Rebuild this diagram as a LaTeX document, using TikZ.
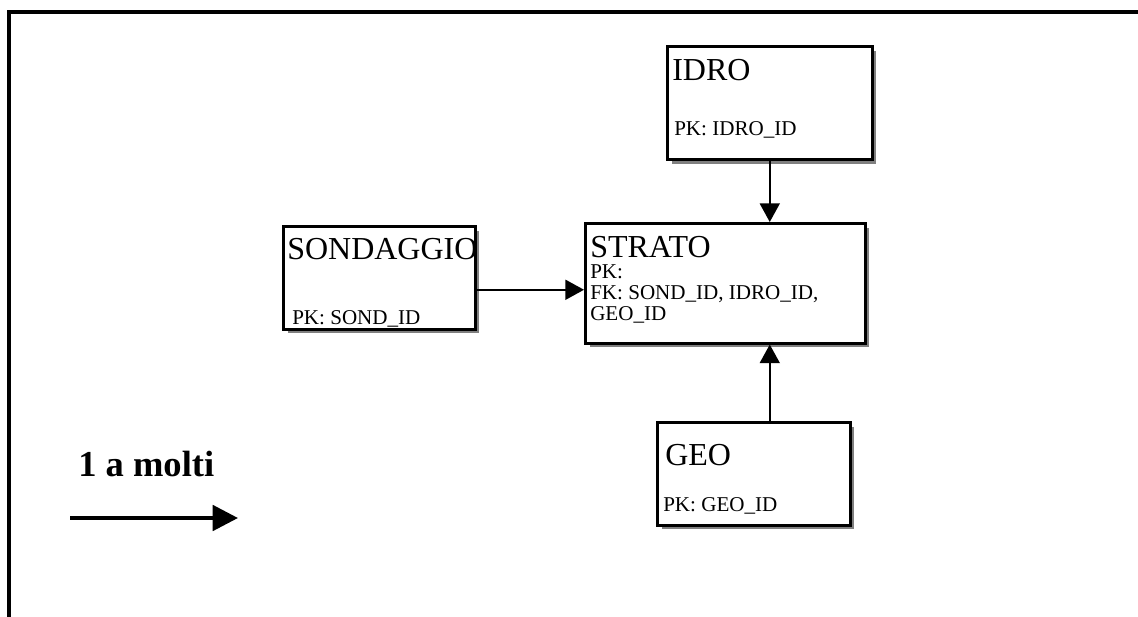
\documentclass[tikz,border=0pt]{standalone}
\usepackage{fontspec}
\setmainfont{Liberation Serif}
\usetikzlibrary{arrows.meta,calc}
\begin{document}
\begin{tikzpicture}[x=0.75pt,y=-0.75pt,
  entity/.style={draw=black,line width=1.9pt,fill=white,inner sep=0pt,anchor=north west},
  shadowbox/.style={fill=black!50,draw=none},
  title/.style={anchor=base west,inner sep=0pt,text depth=0pt,font=\fontsize{24}{28}\selectfont},
  attr/.style={anchor=base west,inner sep=0pt,font=\fontsize{15.8}{19}\selectfont},
  rel/.style={line width=1.4pt,-{Triangle[length=14pt,width=15pt]}},
  legendarrow/.style={line width=3pt,-{Triangle[length=19pt,width=19pt]}}]
\useasboundingbox (0,0) rectangle (1138,617);
% frame
\draw[line width=3pt] (9,617) -- (9,12) -- (1138,12);
% shadows
\fill[shadowbox] (672,51) rectangle (876,164);
\fill[shadowbox] (288,231) rectangle (479,333);
\fill[shadowbox] (590,228) rectangle (869,347);
\fill[shadowbox] (662,427) rectangle (854,529);
% boxes
\node[entity,minimum width=205*0.75pt,minimum height=113*0.75pt] (idro) at (666,45) {};
\node[entity,minimum width=192*0.75pt,minimum height=103*0.75pt] (sond) at (282,225) {};
\node[entity,minimum width=280*0.75pt,minimum height=120*0.75pt] (strato) at (584,222) {};
\node[entity,minimum width=193*0.75pt,minimum height=103*0.75pt] (geo) at (656,421) {};
% texts
\node[title] (idrot) at (672,80) {IDRO};
\node[attr] (idroa) at (674,135) {PK: IDRO\_ID};
\begin{scope}
\clip (282,225) rectangle (473,328);
\node[title] (sondt) at (287,259) {SONDAGGIO};
\end{scope}
\node[attr] (sonda) at (292,324) {PK: SOND\_ID};
\node[title] (stratot) at (590,257) {STRATO};
\node[attr] (stratoa) at (590,278) {PK:};
\node[attr] (stratob) at (590,299) {FK: SOND\_ID, IDRO\_ID,};
\node[attr] (stratoc) at (590,320) {GEO\_ID};
\node[title] (geot) at (665,465) {GEO};
\node[attr] (geoa) at (663,511) {PK: GEO\_ID};
% connectors
\coordinate (s1) at ([yshift=-12*0.75pt]sond.east);
\draw[rel] (s1) -- (s1 -| strato.west);
\draw[rel] (idro.south) -- (idro.south |- strato.north);
\draw[rel] (geo.north -| idro.south) -- (strato.south -| idro.south);
% legend
\node[anchor=base west,inner sep=0pt,font=\bfseries\fontsize{27.4}{32}\selectfont] (leg) at (78,476) {1 a molti};
\coordinate (la) at (70,518);
\coordinate (lb) at (238,518);
\draw[legendarrow] (la) -- (lb);
\end{tikzpicture}
\end{document}
